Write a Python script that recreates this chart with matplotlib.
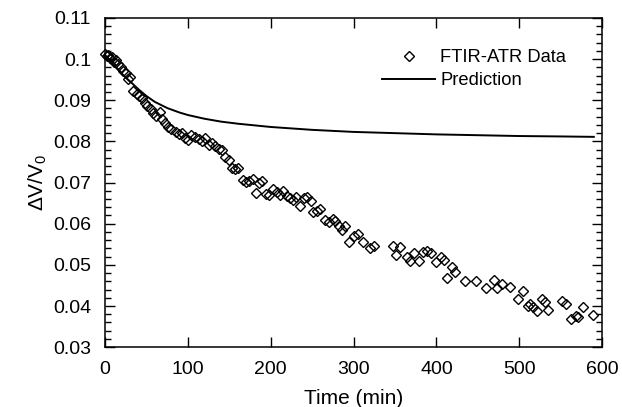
import numpy as np
import matplotlib
matplotlib.use("Agg")
import matplotlib.pyplot as plt
from matplotlib.ticker import MultipleLocator, FuncFormatter

plt.rcParams['font.family'] = ['Liberation Sans', 'DejaVu Sans']
plt.rcParams['mathtext.fontset'] = 'custom'
plt.rcParams['mathtext.rm'] = 'Liberation Sans'

# FTIR-ATR measurements (time in min, dV/V0)
t_data = [0, 2, 4, 6, 8, 11, 13, 16, 19, 22, 25, 28, 30, 34, 38, 41, 45, 48, 51, 55,
          58, 62, 66, 69, 72, 76, 80, 85, 89, 93, 97, 100, 104, 108, 113, 117, 121, 125,
          129, 133, 137, 141, 145, 149, 153, 157, 161, 166, 170, 174, 178, 182, 186, 190,
          194, 198, 203, 207, 211, 215, 219, 223, 227, 231, 235, 240, 244, 248, 251, 256,
          260, 265, 270, 275, 278, 282, 286, 290, 295, 300, 305, 311, 320, 325, 347, 351,
          356, 365, 368, 373, 379, 384, 389, 394, 400, 405, 409, 413, 419, 423, 434, 448,
          460, 469, 473, 479, 489, 499, 505, 510, 513, 516, 521, 527, 531, 535, 551, 556,
          562, 568, 571, 577, 589]
v_data = [0.1012, 0.1008, 0.1010, 0.1003, 0.1005, 0.0993, 0.0998, 0.0988, 0.0981, 0.0972,
          0.0965, 0.0952, 0.0957, 0.0922, 0.0915, 0.0910, 0.0905, 0.0893, 0.0886, 0.0878,
          0.0870, 0.0862, 0.0872, 0.0855, 0.0845, 0.0836, 0.0830, 0.0822, 0.0818, 0.0820,
          0.0808, 0.0803, 0.0816, 0.0810, 0.0805, 0.0800, 0.0808, 0.0792, 0.0796, 0.0788,
          0.0782, 0.0780, 0.0762, 0.0755, 0.0735, 0.0733, 0.0735, 0.0705, 0.0702, 0.0704,
          0.0708, 0.0675, 0.0700, 0.0704, 0.0672, 0.0670, 0.0684, 0.0677, 0.0670, 0.0679,
          0.0668, 0.0662, 0.0657, 0.0666, 0.0642, 0.0662, 0.0666, 0.0655, 0.0628, 0.0630,
          0.0635, 0.0610, 0.0603, 0.0612, 0.0606, 0.0594, 0.0584, 0.0594, 0.0556, 0.0570,
          0.0576, 0.0556, 0.0542, 0.0546, 0.0545, 0.0525, 0.0543, 0.0519, 0.0509, 0.0529,
          0.0509, 0.0531, 0.0533, 0.0530, 0.0507, 0.0520, 0.0512, 0.0468, 0.0495, 0.0482,
          0.0461, 0.0461, 0.0443, 0.0463, 0.0443, 0.0453, 0.0446, 0.0417, 0.0436, 0.0400,
          0.0404, 0.0397, 0.0388, 0.0417, 0.0409, 0.0390, 0.0412, 0.0405, 0.0368, 0.0375,
          0.0373, 0.0397, 0.0378]

# model prediction
t_pred = [0, 5, 10, 15, 20, 25, 30, 40, 50, 60, 75, 90, 100, 120, 140, 160, 180, 200,
          250, 300, 350, 400, 450, 500, 550, 590]
v_pred = [0.1010, 0.0998, 0.0986, 0.0975, 0.0965, 0.0955, 0.0946, 0.0927, 0.0910, 0.0896,
          0.0881, 0.0870, 0.0864, 0.0855, 0.0848, 0.0843, 0.0839, 0.0835, 0.0828, 0.0823,
          0.0820, 0.0817, 0.0815, 0.0813, 0.0812, 0.0811]

fig = plt.figure(figsize=(6.22, 4.07), dpi=100)
ax = fig.add_axes([0.169, 0.147, 0.799, 0.809])

ax.plot(t_data, v_data, linestyle='none', marker='D', markersize=5,
        markerfacecolor='none', markeredgecolor='black', markeredgewidth=1.0,
        label='FTIR-ATR Data', clip_on=False)
ax.plot(t_pred, v_pred, color='black', linewidth=1.4, label='Prediction')

ax.set_xlim(0, 600)
ax.set_ylim(0.03, 0.11)
ax.xaxis.set_major_locator(MultipleLocator(100))
ax.yaxis.set_major_locator(MultipleLocator(0.01))
ax.yaxis.set_minor_locator(MultipleLocator(0.002))
ax.yaxis.set_major_formatter(FuncFormatter(lambda v, p: '%g' % round(v, 3)))

ax.tick_params(which='both', direction='in', top=True, right=True, labelsize=14, width=1.0)
ax.tick_params(which='major', length=7, pad=10)
ax.tick_params(which='minor', length=4)
for s in ax.spines.values():
    s.set_linewidth(1.1)

ax.set_xlabel('Time (min)', fontsize=15, labelpad=8)
ax.set_ylabel(r'ΔV/V$_{\mathregular{0}}$', fontsize=15, labelpad=3)

ax.legend(loc='upper left', bbox_to_anchor=(0.557, 0.905), frameon=False, fontsize=13.2,
          numpoints=1, handlelength=2.9, handletextpad=0.27, labelspacing=0.33,
          borderpad=0, borderaxespad=0)

fig.savefig('out.png', dpi=100)
